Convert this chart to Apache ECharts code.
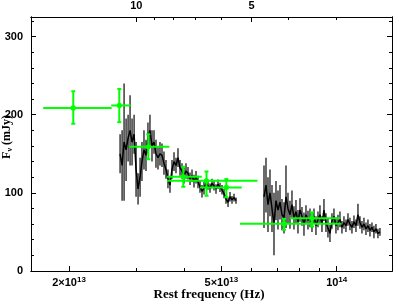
<!DOCTYPE html>
<html><head><meta charset="utf-8">
<script src="https://cdn.jsdelivr.net/npm/echarts@6/dist/echarts.min.js"></script>
<style>html,body{margin:0;padding:0;background:#fff}#c{width:397px;height:302px}</style>
</head><body><div id="c"></div>
<script>
// Spectrum segment 1 (frequency in units of 1e13 Hz, flux mJy, 1-sigma error)
const spec1Freq = [2.719,2.752,2.785,2.819,2.853,2.887,2.922,2.958,2.993,3.029,3.066,3.101,3.139,3.177,3.215,3.254,3.294,3.334,3.374,3.415,3.456,3.498,3.540,3.583,3.626,3.670,3.715,3.760,3.805,3.851,3.898,3.945,3.993,4.041,4.090,4.140,4.190,4.240,4.292,4.344,4.396,4.449,4.503,4.558,4.613,4.669,4.725,4.782,4.840,4.899,4.958,5.018,5.079,5.140,5.203,5.265,5.329,5.394,5.459];
const spec1Flux = [150,135,165,155,170,180,165,175,130,105,120,140,155,148,170,180,160,165,150,145,150,148,138,130,118,110,130,140,135,145,132,128,122,128,125,118,122,115,120,114,108,102,106,112,110,106,112,109,105,111,107,104,99,92,88,95,91,94,90];
const spec1Err = [25,45,75,40,30,45,30,25,35,20,25,25,25,20,20,20,20,15,18,15,15,15,15,12,12,10,12,12,10,12,10,10,10,10,8,8,8,8,8,8,8,8,8,6,6,6,6,6,6,6,6,6,6,6,6,6,5,5,4];
// Spectrum segment 2
const spec2Freq = [6.459,6.537,6.616,6.696,6.777,6.859,6.942,7.026,7.111,7.197,7.284,7.372,7.461,7.551,7.642,7.735,7.828,7.923,8.019,8.116,8.214,8.313,8.414,8.516,8.619,8.723,8.828,8.935,9.043,9.152,9.263,9.375,9.488,9.603,9.719,9.837,9.956,10.076,10.198,10.321,10.446,10.573,10.701,10.830,10.961,11.094,11.228,11.364,11.501,11.640,11.781,11.923,12.067,12.213,12.361,12.510,12.661,12.814,12.969];
const spec2Flux = [95,110,85,100,80,60,90,78,88,72,68,95,80,72,85,68,76,63,78,70,60,72,65,68,62,70,58,66,72,60,78,62,55,48,64,70,58,62,66,56,62,58,66,60,56,63,58,72,62,56,60,54,58,52,56,50,54,48,50];
const spec2Err = [40,35,35,30,30,40,25,25,22,20,20,40,20,18,18,15,15,15,15,12,15,12,12,12,12,10,12,10,12,10,14,12,12,11,10,10,10,10,10,8,8,8,8,8,8,8,8,14,8,8,8,8,8,8,6,8,6,6,5];
// Photometry (green)
const photFreq   = [2.052,2.706,3.221,3.976,4.571,5.150,7.284,8.620];
const photFreqLo = [1.713,2.578,2.875,3.605,3.605,4.396,5.592,7.550];
const photFreqHi = [2.585,2.898,3.655,4.443,6.212,5.649,10.30,10.20];
const photFlux   = [208.7,211.8,159.0,120.5,115.5,107.0,60.3,67.5];
const photLo     = [188.4,190.5,143.0,107.8,96.3,94.4,52.7,57.0];
const photHi     = [230.0,233.0,174.9,133.3,127.3,117.6,66.7,75.0];
// Axis ticks
const xMajorHz = [2e13, 5e13, 1e14];
const xMajorLabels = ['{b|2×10}{s|13}', '{b|5×10}{s|13}', '{b|10}{s|14}'];
const xMinorHz = [3e13,4e13,6e13,7e13,8e13,9e13];
const topMajorUm = [10, 5];
const topMinorUm = [9,8,7,6,4,3];
const yMajor = [0,100,200,300];
const yMinor = [20,40,60,80,120,140,160,180,220,240,260,280,320];

const C_UM = 2.99792458e14;
const lg = v => Math.log10(v);
const XMIN = 13.2018, XMAX = 14.1444, YMIN = 0, YMAX = 325;

const chart = echarts.init(document.getElementById('c'), null, {renderer:'canvas'});
const lab = {fontFamily:'Liberation Sans', fontWeight:'bold', fontSize:11, color:'#000'};
function xAx(pos, ticks, len, labels, fmt){
  const a = {type:'value', position:pos, min:XMIN, max:XMAX,
    axisLine:{show:true, onZero:false, lineStyle:{color:'#000', width:1}},
    splitLine:{show:false},
    axisTick:{show:true, inside:true, length:len, customValues:ticks, lineStyle:{color:'#000', width:1}},
    axisLabel:{show:!!labels}};
  if (labels) {
    a.axisLabel = {show:true, customValues:ticks, margin:5, formatter:fmt,
      rich:{b:Object.assign({}, lab, {lineHeight:13}), s:Object.assign({}, lab, {fontSize:8, verticalAlign:'top', lineHeight:13})},
      fontFamily:'Liberation Sans', fontWeight:'bold', fontSize:11, color:'#000'};
  }
  return a;
}
function yAx(pos, ticks, len, labels){
  const a = {type:'value', position:pos, min:YMIN, max:YMAX,
    axisLine:{show:true, onZero:false, lineStyle:{color:'#000', width:1}},
    splitLine:{show:false},
    axisTick:{show:true, inside:true, length:len, customValues:ticks, lineStyle:{color:'#000', width:1}},
    axisLabel:{show:false}};
  if (labels) a.axisLabel = Object.assign({show:true, customValues:ticks, margin:8}, lab);
  return a;
}
const xMajVals = xMajorHz.map(lg);
const topMajVals = topMajorUm.map(u => lg(C_UM/u));
function idx(arr, v){ let b=0; arr.forEach((a,i)=>{ if (Math.abs(a-v) < Math.abs(arr[b]-v)) b=i; }); return b; }

const errData = [];
spec1Freq.forEach((f,i)=>errData.push([lg(f*1e13), spec1Flux[i]-spec1Err[i], spec1Flux[i]+spec1Err[i]]));
spec2Freq.forEach((f,i)=>errData.push([lg(f*1e13), spec2Flux[i]-spec2Err[i], spec2Flux[i]+spec2Err[i]]));
const line1 = spec1Freq.map((f,i)=>[lg(f*1e13), spec1Flux[i]]);
const line2 = spec2Freq.map((f,i)=>[lg(f*1e13), spec2Flux[i]]);
const photData = photFreq.map((f,i)=>[lg(f*1e13), photFlux[i], lg(photFreqLo[i]*1e13), lg(photFreqHi[i]*1e13), photLo[i], photHi[i]]);

const GREEN = '#00ff00';
chart.setOption({
  animation:false,
  backgroundColor:'#fff',
  grid:{left:31, right:5, top:15, bottom:31, containLabel:false},
  xAxis:[
    xAx('bottom', xMajVals, 5, true, v => xMajorLabels[idx(xMajVals, v)]),
    xAx('bottom', xMinorHz.map(lg), 3, false),
    xAx('top', topMajVals, 5, true, v => '{b|' + topMajorUm[idx(topMajVals, v)] + '}'),
    xAx('top', topMinorUm.map(u => lg(C_UM/u)), 3, false)
  ],
  yAxis:[
    yAx('left', yMajor, 5, true),
    yAx('left', yMinor, 3, false),
    yAx('right', yMajor, 5, false),
    yAx('right', yMinor, 3, false)
  ],
  series:[
    {type:'custom', xAxisIndex:0, yAxisIndex:0, data:errData, z:2,
      renderItem:(p, api)=>{
        const a = api.coord([api.value(0), api.value(1)]);
        const b = api.coord([api.value(0), api.value(2)]);
        return {type:'line', shape:{x1:a[0], y1:a[1], x2:b[0], y2:b[1]}, style:{stroke:'#2b2b2b', lineWidth:1.4}};
      }},
    {type:'line', data:line1, symbol:'none', lineStyle:{color:'#000', width:1.5}, z:3},
    {type:'line', data:line2, symbol:'none', lineStyle:{color:'#000', width:1.5}, z:3},
    {type:'custom', data:photData, z:5,
      renderItem:(p, api)=>{
        const c = api.coord([api.value(0), api.value(1)]);
        const l = api.coord([api.value(2), api.value(1)]);
        const r = api.coord([api.value(3), api.value(1)]);
        const lo = api.coord([api.value(0), api.value(4)]);
        const hi = api.coord([api.value(0), api.value(5)]);
        const st = {stroke:GREEN, lineWidth:2};
        return {type:'group', children:[
          {type:'line', shape:{x1:l[0], y1:l[1], x2:r[0], y2:r[1]}, style:st},
          {type:'line', shape:{x1:lo[0], y1:lo[1], x2:hi[0], y2:hi[1]}, style:st},
          {type:'line', shape:{x1:lo[0]-2, y1:lo[1], x2:lo[0]+2, y2:lo[1]}, style:st},
          {type:'line', shape:{x1:hi[0]-2, y1:hi[1], x2:hi[0]+2, y2:hi[1]}, style:st},
          {type:'circle', shape:{cx:c[0], cy:c[1], r:2.6}, style:{fill:GREEN}}
        ]};
      }}
  ],
  graphic:[
    {type:'text', x:209, y:295, style:{text:'Rest frequency (Hz)', fontFamily:'Liberation Serif', fontWeight:'bold', fontSize:13, fill:'#000', align:'center', verticalAlign:'middle'}},
    {type:'text', x:7, y:137, rotation:Math.PI/2, style:{text:'{a|F}{s|ν}{a| (mJy)}', align:'center', verticalAlign:'middle',
      rich:{a:{fontFamily:'Liberation Serif', fontWeight:'bold', fontSize:12, fill:'#000', lineHeight:14},
            s:{fontFamily:'Liberation Serif', fontWeight:'bold', fontSize:8, fill:'#000', verticalAlign:'bottom', lineHeight:14}}}}
  ]
});
</script></body></html>
